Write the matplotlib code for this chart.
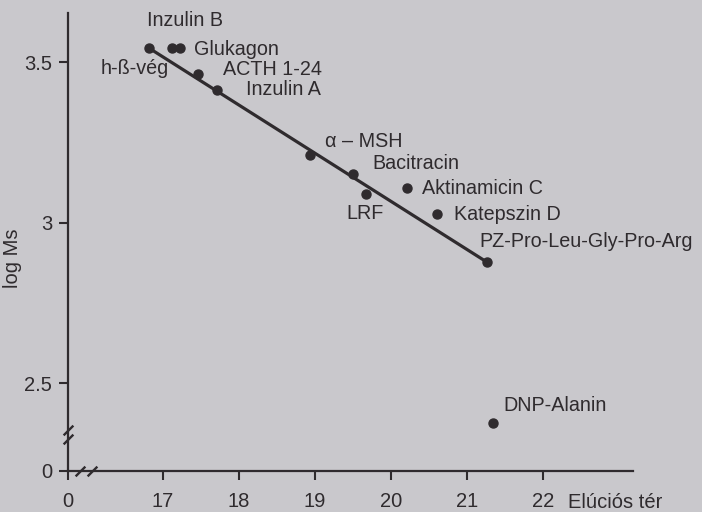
import numpy as np
import matplotlib
matplotlib.use("Agg")
import matplotlib.pyplot as plt

plt.rcParams['font.family'] = ['Liberation Sans', 'DejaVu Sans']

# peptides
names = ["h-ß-vég", "Inzulin B", "Glukagon", "ACTH 1-24", "Inzulin A",
         "α – MSH", "Bacitracin", "LRF", "Aktinamicin C", "Katepszin D",
         "PZ-Pro-Leu-Gly-Pro-Arg", "DNP-Alanin"]
elution = [16.82, 17.12, 17.23, 17.47, 17.72, 18.94, 19.50, 19.67, 20.21,
           20.61, 21.26, 21.34]
log_ms = [3.544, 3.544, 3.544, 3.463, 3.413, 3.210, 3.151, 3.089, 3.107,
          3.026, 2.877, 2.375]

# calibration line (end points)
fit_x = [16.82, 21.26]
fit_y = [3.544, 2.877]

x_ticks = [17, 18, 19, 20, 21, 22]
y_ticks = [2.5, 3, 3.5]

# label offsets in pixels (dx, dy) from each point
label_off = [(-48, -21), (-25, 27), (14, -2), (25, 4), (29, 1), (15, 14),
             (20, 11), (-19, -19), (15, 0), (17, 0), (-7, 21), (10, 18)]

ink = '#2f2b2e'
paper = '#c9c8cc'

# broken axes: the origin "0" sits just before the visible range
x_origin = 15.758
y_origin = 2.226

fig = plt.figure(figsize=(7.02, 5.12), dpi=100, facecolor=paper)
ax = fig.add_axes([68 / 702, 41 / 512, 565 / 702, 458 / 512])
ax.set_facecolor('none')

ax.plot(fit_x, fit_y, color=ink, lw=2.3, solid_capstyle='round')
ax.plot(elution, log_ms, 'o', color=ink, ms=6.5, ls='none')

for n, x, y, off in zip(names, elution, log_ms, label_off):
    ax.annotate(n, (x, y), xytext=off, textcoords='offset pixels',
                ha='left', va='center', fontsize=14.2, color=ink)

ax.set_xlim(x_origin, 23.18)
ax.set_ylim(y_origin, 3.653)

ax.set_xticks([x_origin] + x_ticks)
ax.set_xticklabels(["0"] + [str(t) for t in x_ticks])
ax.set_yticks([y_origin] + y_ticks)
ax.set_yticklabels(["0", "2.5", "3", "3.5"])

for s in ['top', 'right']:
    ax.spines[s].set_visible(False)
for s in ['left', 'bottom']:
    ax.spines[s].set_color(ink)
    ax.spines[s].set_linewidth(1.6)

ax.tick_params(axis='both', direction='out', length=6.5, width=1.5,
               color=ink, labelcolor=ink, labelsize=14.5)
ax.tick_params(axis='y', pad=5)
ax.tick_params(axis='x', pad=8.5)

# axis break marks
slash = [(-1, -1), (1, 1)]
ax.plot([x_origin, x_origin], [2.354, 2.326], marker=slash, ms=7, mew=1.7,
        color=ink, ls='none', clip_on=False)
ax.plot([15.92, 16.07], [y_origin, y_origin], marker=slash, ms=7, mew=1.7,
        color=ink, ls='none', clip_on=False)

fig.text(568 / 702, 1 - 502 / 512, "Elúciós tér", fontsize=14.5, color=ink,
         ha='left', va='center')
fig.text(12 / 702, 1 - 258 / 512, "log Ms", fontsize=14.5, color=ink,
         ha='center', va='center', rotation=90)

fig.savefig("out.png", dpi=100, facecolor=paper)
